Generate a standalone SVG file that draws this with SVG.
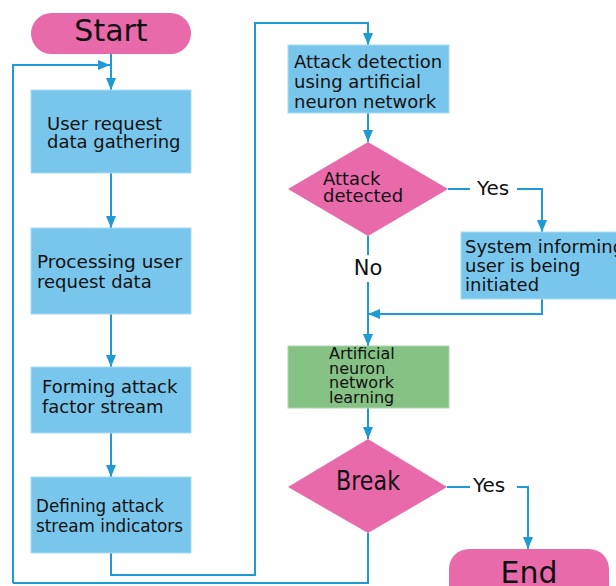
<svg xmlns="http://www.w3.org/2000/svg" width="616" height="586" viewBox="0 0 616 586">
<defs>
<marker id="ah" viewBox="0 0 12 10" refX="12" refY="5" markerWidth="12" markerHeight="10" markerUnits="userSpaceOnUse" orient="auto">
<path d="M0,0 L12,5 L0,10 Z" fill="#1E9BD7"/>
</marker>
<style>
.t{font-family:"DejaVu Sans",Verdana,sans-serif;fill:#111;}
.box{fill:#79C6EC;stroke:#A8DCF4;stroke-width:1;}
.dec{fill:#E96AAB;}
.term{fill:#E96AAB;}
.grn{fill:#86C286;stroke:#A9D6A9;stroke-width:1;}
.c{fill:none;stroke:#1E9BD7;stroke-width:2;}
.ca{fill:none;stroke:#1E9BD7;stroke-width:2;marker-end:url(#ah);}
</style>
</defs>
<rect width="616" height="586" fill="#fff"/>
<g id="connectors">
<path class="ca" d="M111,54 V90"/>
<path class="ca" d="M13,583 V65 H110"/>
<path class="c" d="M368,533 V583 H13"/>
<path class="ca" d="M111,173 V228"/>
<path class="ca" d="M111,314 V367"/>
<path class="ca" d="M111,433 V477"/>
<path class="ca" d="M111,553 V575 H255 V23 H368 V45"/>
<path class="ca" d="M368,113 V142"/>
<path class="c" d="M448,189 H470"/>
<path class="ca" d="M517,189 H542 V232"/>
<path class="ca" d="M542,299 V314 H368"/>
<path class="c" d="M368,236 V255"/>
<path class="ca" d="M368,282 V346"/>
<path class="ca" d="M368,408 V439"/>
<path class="c" d="M447,487 H470"/>
<path class="ca" d="M517,487 H528 V549"/>
<text class="t" x="477" y="195" font-size="20">Yes</text>
<text class="t" x="368" y="275" font-size="21" text-anchor="middle">No</text>
<text class="t" x="473" y="492" font-size="20">Yes</text>
</g>
<g id="start">
<rect class="term" x="31" y="13" width="160" height="41" rx="20.5"/>
<text class="t" x="111" y="41" font-size="30" text-anchor="middle">Start</text>
</g>
<g id="user">
<rect class="box" x="31" y="90" width="160" height="83"/>
<text class="t" x="47" y="130" font-size="18">User request</text>
<text class="t" x="47" y="148" font-size="18">data gathering</text>
</g>
<g id="processing">
<rect class="box" x="31" y="228" width="160" height="86"/>
<text class="t" x="37" y="268" font-size="18" textLength="145" lengthAdjust="spacingAndGlyphs">Processing user</text>
<text class="t" x="37" y="288" font-size="18">request data</text>
</g>
<g id="forming">
<rect class="box" x="31" y="367" width="160" height="66"/>
<text class="t" x="42" y="393" font-size="18">Forming attack</text>
<text class="t" x="42" y="413" font-size="18">factor stream</text>
</g>
<g id="defining">
<rect class="box" x="31" y="477" width="160" height="76"/>
<text class="t" x="36" y="512" font-size="18" textLength="128" lengthAdjust="spacingAndGlyphs">Defining attack</text>
<text class="t" x="36" y="532" font-size="18" textLength="147" lengthAdjust="spacingAndGlyphs">stream indicators</text>
</g>
<g id="detection">
<rect class="box" x="288" y="45" width="161" height="68"/>
<text class="t" x="294" y="68" font-size="18">Attack detection</text>
<text class="t" x="294" y="88" font-size="18">using artificial</text>
<text class="t" x="294" y="108" font-size="18">neuron network</text>
</g>
<g id="detected">
<polygon class="dec" points="368,142 448,189 368,236 288,189"/>
<text class="t" x="323" y="185" font-size="18">Attack</text>
<text class="t" x="323" y="202" font-size="18">detected</text>
</g>
<g id="informing">
<rect class="box" x="461" y="232" width="160" height="67"/>
<text class="t" x="465" y="253" font-size="18">System informing</text>
<text class="t" x="465" y="272" font-size="18">user is being</text>
<text class="t" x="465" y="291" font-size="18">initiated</text>
</g>
<g id="learning">
<rect class="grn" x="288" y="346" width="161" height="62"/>
<text class="t" x="329" y="359" font-size="16">Artificial</text>
<text class="t" x="329" y="374" font-size="16">neuron</text>
<text class="t" x="329" y="388" font-size="16">network</text>
<text class="t" x="329" y="403" font-size="16">learning</text>
</g>
<g id="break">
<polygon class="dec" points="368,439 447,487 368,533 288,487"/>
<text class="t" x="336" y="490" font-size="27" textLength="64" lengthAdjust="spacingAndGlyphs">Break</text>
</g>
<g id="end">
<rect class="term" x="449" y="549" width="160" height="60" rx="20"/>
<text class="t" x="529" y="583" font-size="30" text-anchor="middle">End</text>
</g>
</svg>
